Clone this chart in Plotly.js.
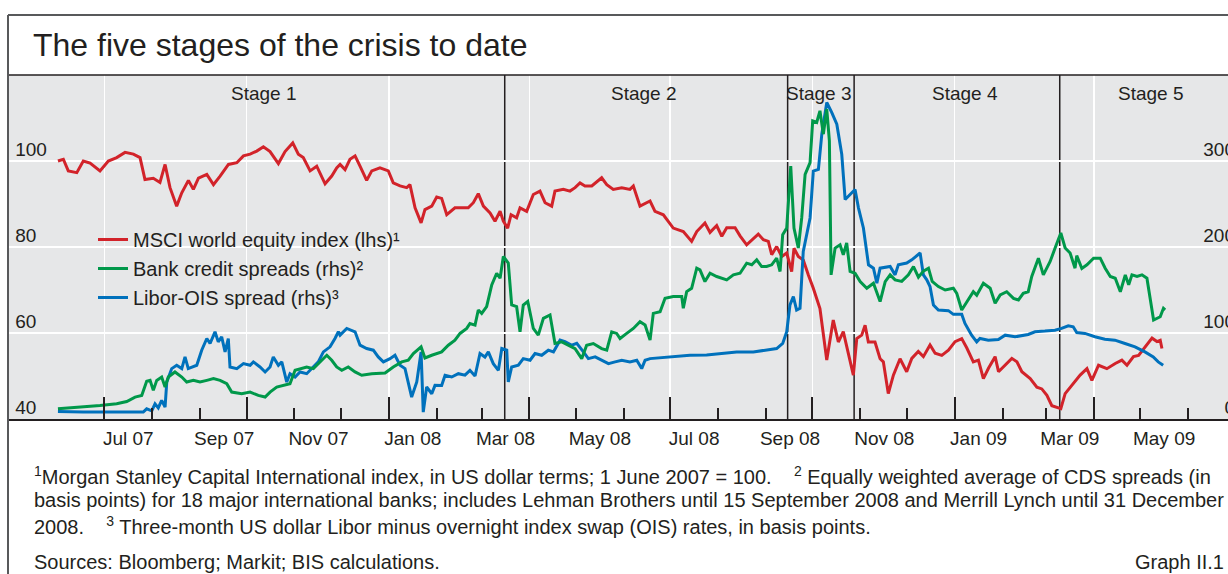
<!DOCTYPE html>
<html>
<head>
<meta charset="utf-8">
<script src="https://cdn.plot.ly/plotly-3.0.1.min.js"></script>
<style>
  html, body { margin: 0; padding: 0; overflow: hidden; background: #fff; }
  #chart { width: 1245px; height: 574px; }
</style>
</head>
<body>
<div id="chart"></div>
<script>
// ---- data (x in days since 1 June 2007) ----
const baseDate = Date.UTC(2007, 5, 1);

const redDays = [0,3.5,6.7,12.2,16.4,20.8,27.2,32.6,38,43.4,48.8,53.1,56.3,61.7,66,69.3,72.5,76.8,80.1,84.4,87.6,90.9,96.3,100.6,104.9,110.3,115.7,120,124.3,128.6,132.9,137.2,142.6,146.9,151.9,155.5,158.7,163.1,167.4,172.8,177.1,180.3,182.5,185.7,188.9,192.2,195.4,199.7,203,208.3,213.7,216.9,221.3,225.6,227.7,231,234.9,237.4,241.8,245,248.2,251.5,256.8,262.2,265.4,268.7,271.9,275.2,279.5,282.7,286,288.1,290.9,293.1,296.7,298.9,303.2,307.5,311.8,315.1,319.4,321.5,326.9,331.2,334.5,337.7,340.9,345.3,351.7,355,359.2,364.7,370,372.2,376.5,383,386.2,391.6,394.8,398,404.5,409.9,413.2,418.5,421.8,426.1,429.4,432.6,438,441.2,445.5,448.8,453,456.3,459.5,461.7,464.9,468.2,471.4,474.6,476.1,478.9,482.1,485.4,488.6,492.9,497.3,501.5,504.8,508,512.4,514.5,516.7,519.9,522.1,524.2,528.5,531.8,533.9,537.1,540.4,544.7,549,552.3,556.5,559.8,564.1,567.4,571.7,576,580.3,584.6,587.9,592.1,595.4,598.6,601.9,606.2,608.4,612.7,617,620.3,623.5,628.9,633.2,636.4,639.7,642.9,646.2,648.7,651.5,655.9,661.2,665.6,668.8,673.1,678.5,683.9,688.2,691.5,695.7,699,703.3,707.7,710.9,713,714.1];
const redValues = [100,100.4,97.7,97.3,100,99.5,97.7,100,100.8,102,101.6,100.8,95.7,96,95,99.2,93.8,89.5,92.6,95.5,93.4,96,96.9,94.5,96.5,99.2,99.6,101.2,101.6,102.3,103.3,102.2,99.4,102.2,104.2,101.6,100.8,97.7,98.8,94.7,96.5,98.4,99.2,98,100.4,101.2,98.8,95.5,97.7,98.4,97.7,94.9,94.2,93.8,94.5,89.1,85.6,88.7,89.5,91.6,91.3,87.5,89.1,89.1,89.1,90.3,92.4,89.5,87.9,86,88.3,86,84.4,87.5,86.8,89.1,88.3,92.2,93,90.3,89.5,93,93.4,93,93.8,94.9,94.2,94.2,96.1,94.5,93.4,93.8,93.4,94.2,89.5,90.7,88.3,87.5,86,84.4,83.6,81.3,83.6,85.6,83.4,85,82.5,84.5,84.5,82.6,80.5,81.7,83,81.7,81.3,78.2,80.1,77.8,78.6,74.3,79.7,77.8,77,73.5,70.4,65.7,53.7,63,57.9,60.3,53.7,50.2,58.7,59.5,61.8,57.9,57.9,54,53.3,45.9,50.2,54,51,54.1,55.7,54.5,57.2,55.3,54.8,56,58,58.7,56.5,53.3,53.7,49.4,51.8,54.5,51,52.6,54.1,53.3,51,49.4,47.4,47,45.5,43.1,42.8,42.4,45.9,47.8,50.2,51.7,49,52.5,51.7,52.9,53.7,52.5,54.5,54.8,56.9,58.8,58,58.3,56.4];

const greenDays = [0,16.4,27.2,38,44.5,49.9,54.2,57.4,59.6,61.7,63.9,67.1,69.3,71.4,75.7,80.1,83.3,87.6,91.9,96.3,100.6,104.9,109.2,112.4,118.9,124.3,129.6,134,137.2,141.5,145.8,150.1,153.4,157.7,160.9,165.2,168.4,173.9,177.1,180.3,183.6,187.8,192.2,196.5,203,211.6,216.9,222.4,226.6,229.9,234.9,237.4,241.8,248.2,252.5,256.8,260.1,264.4,266.5,269.8,271.9,274.1,277.3,280.6,283.8,286,288.1,291.3,293.5,296.7,298.9,301,303.9,307.5,310.7,314,318.3,321.5,325.9,330.1,334.5,338.8,342,346.3,351.7,355,358.2,361.4,363.6,367.9,372.2,376.5,379.8,383,385.1,389.5,392.7,398,403.5,404.5,406.7,409.9,413.2,415.3,418.5,421.8,426.1,432.6,436.9,441.2,445.5,448.8,452,455.2,458.4,461.7,464.9,467.1,468.8,471.4,474,476.1,478.9,481.1,483.3,486.5,488.2,490.8,492.9,495.1,497.3,499,500.1,502.7,505.9,508,510.2,512.4,515.6,518.9,523.2,527.5,531.8,535.1,538.3,541.5,545.8,550.1,553.4,556.6,559.8,563.1,565.5,569.5,573.9,579.2,581.4,584.6,587.9,592.1,594.3,598.6,603,606.2,609.5,613.7,618.1,621.3,624.4,627.6,629.9,634.2,637.4,641.8,645,648.7,651.5,654.7,657.9,659,662.3,665.6,669.9,674.2,677.4,680.7,683.9,687.2,690.4,692.6,694.7,698,701.2,704.4,708.7,713,715.1,716.2];
const greenValues = [11.8,13.8,15.7,17.7,20.4,25.5,27.4,43.8,44.9,33.3,44.9,48.8,37.2,48.8,54.7,48.8,43,44.9,43,44.9,46.9,44.9,41,31.3,29.4,31.3,27.4,25.5,31.3,37.2,39.1,41,56.6,58.6,60.5,58.6,64.4,74.1,68.3,60.5,56.6,60.5,54.7,50.8,52.7,53.5,60.5,66.4,68.3,76.1,83.9,71,74.1,78,85.8,91.7,99.5,105.3,111.1,109.2,126.7,122.8,130.6,155.9,169.5,163.7,189,181.2,132.6,130.6,101.4,132.6,136.6,105.3,97.5,117,120.9,87.8,89.7,85.8,81.9,70.2,85.8,87.8,81.9,80,101.4,99.5,93.6,99.5,105.3,113.1,109.2,91.7,122.8,124.8,140.3,142.3,142.3,128.7,148.1,152,175.4,173.4,159.8,169.5,165.7,161.8,167.6,169.5,181.2,179.3,185.1,177.3,177.3,179.3,187,171.5,214.3,222.1,294.2,222.1,198.8,233.8,284.4,298.1,346.7,344.8,358.4,331.2,360.4,323.4,167.6,198.8,202.6,191,204.6,171.5,169.5,159.8,152,157.9,136.6,159.8,167.6,161.8,160,167.6,177.3,165,172,175.4,160,154,150,152,146,126.7,136.4,148,144,157.9,152,134.5,144.2,148,140.3,138.4,146.2,148,165.7,187,167.6,183.2,198.8,216.3,198.8,193,175.4,190,175,179.3,187,187,175.4,165.7,163.7,148,167.6,156,167.6,165.7,167.6,163.7,115,118.9,128.7,127];

const blueDays = [0,16.4,38,55.2,57.4,60.7,62.8,64.9,67.1,69.3,70.4,73.6,76.8,80.1,82.2,84.3,89.8,93,96.3,98.4,101.6,103.7,105.9,108.1,110.2,111.3,115.7,120,124.3,126.4,130.7,134,137.2,139.3,142.6,144.8,148,150.1,153.4,156.6,160.9,165.2,168.4,171.7,176,179.2,181.4,182.5,186.8,192.2,195.4,199.7,204,207.2,210.5,214.8,218,221.3,224.5,228.8,232.1,234.9,236.3,238.5,241.8,243.9,248.2,250.4,254.7,259,263.3,266.5,269.8,273,276.2,278.4,281.6,284.9,287.1,290.3,291.3,293.5,297.8,301,305.4,308.6,312.9,317.2,320.5,324.8,328,332.4,335.6,339.9,343.1,347.5,351.7,356.1,360.4,364.7,370,374.4,377.6,379.8,383,395.9,408.8,419.6,428.2,439,449.8,458.4,464.9,468.8,471.4,473.5,475.7,477.8,480,482.1,484.3,486.5,488.6,491.9,494.1,496.2,497.3,500.5,503.8,507,509.2,512.4,515.6,517.8,521,524.3,527.5,529.7,531.8,538.3,541.5,543.6,549,552.3,556.5,557.7,559.8,562,564.1,566.3,569.5,576,579.2,584.6,586.7,591,594.3,596.4,601.8,608.3,612.7,619.1,627.6,632,638.4,644.9,649.2,653.5,656.7,659,664.3,670.8,677.2,683.7,690.2,696.7,703.1,708.5,711.7,714.9];
const blueValues = [8.7,8,8,8,11.8,9.5,17.7,13,21.6,13.8,43,58.6,62.5,58.6,72.2,58.6,62.5,80,93.6,87.8,101.4,89.7,95.6,78,93.6,60.5,58.6,64.4,62.5,66.4,60.5,54.7,60.5,72.2,62.5,66.4,43,52.7,48.8,54.7,52.7,60.5,66.4,78,83.9,93.6,101.4,97.5,105.3,101.4,85.8,81.9,80,72.2,66.4,70.2,74.1,62.5,58.6,25.5,43,78,8,37.2,29.4,39.1,39,50.8,48.8,52.7,51,56.6,50,76.1,72,78,64.4,56.6,81.9,80,43,60.5,62.5,70.2,68.3,76.1,74.1,80,78,91.7,90,85.8,88,78,70.2,72.2,68.3,64.4,66.4,68.3,66.4,68.3,58.6,68.3,70.2,72.2,74.1,74.5,76.1,78,78,80,81.9,87.8,101.4,132.6,142.3,126.7,128.7,194.9,216.3,233.8,288.3,290.3,331.2,358.4,368.1,356.5,342.8,307.8,255.2,261.1,266.9,245.5,222.1,179.3,175.4,158,175.4,177.3,167.6,179.3,181.3,185.1,191,193,167.6,161.8,154,132.6,126.7,126,121.7,121.7,111.1,97.5,89.7,93.6,91.7,92.5,97.5,95.6,98.3,101.4,102.2,103.3,105.3,108.4,107.2,100.6,99.5,95.6,92.8,91.7,87.8,83.9,78,72.2,66.4,62.5];

const seriesNames = ['MSCI world equity index (lhs)\u00b9', 'Bank credit spreads (rhs)\u00b2', 'Libor-OIS spread (rhs)\u00b3'];

const quarterStarts = ['2007-07-01','2007-10-01','2008-01-01','2008-04-01','2008-07-01','2008-10-01','2009-01-01','2009-04-01','2009-07-01'];
const monthStarts = ['2007-07-01','2007-08-01','2007-09-01','2007-10-01','2007-11-01','2007-12-01','2008-01-01','2008-02-01','2008-03-01','2008-04-01','2008-05-01','2008-06-01','2008-07-01','2008-08-01','2008-09-01','2008-10-01','2008-11-01','2008-12-01','2009-01-01','2009-02-01','2009-03-01','2009-04-01','2009-05-01','2009-06-01','2009-07-01'];
const monthTickText = ['Jul 07','','Sep 07','','Nov 07','','Jan 08','','Mar 08','','May 08','','Jul 08','','Sep 08','','Nov 08','','Jan 09','','Mar 09','','May 09','',''];
const leftTicks = [40, 60, 80, 100];
const rightTicks = [0, 100, 200, 300];

const stageBounds = ['2008-03-16','2008-09-15','2008-10-28','2009-03-10'];
const stageNames = ['Stage 1','Stage 2','Stage 3','Stage 4','Stage 5'];
const stageLabelDates = ['2007-10-12','2008-06-14','2008-10-05','2009-01-08','2009-05-08'];

const footnotes = [
  '<sup>1</sup>Morgan Stanley Capital International index, in US dollar terms; 1 June 2007 = 100.\u00a0\u00a0\u00a0 <sup>2</sup> Equally weighted average of CDS spreads (in',
  'basis points) for 18 major international banks; includes Lehman Brothers until 15 September 2008 and Merrill Lynch until 31 December',
  '2008.\u00a0\u00a0\u00a0 <sup>3</sup> Three-month US dollar Libor minus overnight index swap (OIS) rates, in basis points.'
];
const sourceText = 'Sources: Bloomberg; Markit; BIS calculations.';
const graphId = 'Graph II.1';

// ---- helpers ----
function toDate(d) {
  return new Date(baseDate + d * 86400000).toISOString().replace('T', ' ').slice(0, 19);
}
const FONT = 'Liberation Sans, Arial, Helvetica, sans-serif';
const INK = '#231f20';

const W = 1245, H = 574, ML = 8, MR = 5, MT = 75, MB = 155;
const plotW = W - ML - MR, plotH = H - MT - MB;
const py = (Y) => (H - MB - Y) / plotH;   // pixel y -> paper y
const px = (X) => (X - ML) / plotW;        // pixel x -> paper x

const xRange = [toDate(-32.3), toDate(764.6)];

// red on the main subplot (x, y); blue on (x, y2); green on (x2, y2) so the quarter-tick axis x2 is drawn
const traces = [
  { x: redDays.map(toDate), y: redValues, name: seriesNames[0], type: 'scatter', mode: 'lines',
    xaxis: 'x', yaxis: 'y', line: { color: '#d2232a', width: 3 } },
  { x: greenDays.map(toDate), y: greenValues, name: seriesNames[1], type: 'scatter', mode: 'lines',
    xaxis: 'x2', yaxis: 'y2', line: { color: '#00984a', width: 3 } },
  { x: blueDays.map(toDate), y: blueValues, name: seriesNames[2], type: 'scatter', mode: 'lines',
    xaxis: 'x', yaxis: 'y2', line: { color: '#0071bc', width: 3 } }
];

const shapes = stageBounds.map(d => ({
  type: 'line', xref: 'x', yref: 'paper', x0: d, x1: d, y0: 0, y1: 1,
  line: { color: INK, width: 1.5 }, layer: 'between'
}));
// top border of the plot area
shapes.push({ type: 'line', xref: 'paper', yref: 'paper', x0: 0, x1: 1.01, y0: 1, y1: 1,
  line: { color: INK, width: 1.5 }, layer: 'above' });
// outer frame of the graph box
shapes.push({ type: 'line', xref: 'paper', yref: 'paper', x0: 0, x1: 1.01, y0: py(15), y1: py(15),
  line: { color: '#58595b', width: 2 }, layer: 'above' });
shapes.push({ type: 'line', xref: 'paper', yref: 'paper', x0: 0, x1: 0, y0: py(15), y1: py(580),
  line: { color: '#58595b', width: 2 }, layer: 'above' });

const annotations = [];
stageNames.forEach((s, i) => annotations.push({
  text: s, x: stageLabelDates[i], xref: 'x', y: py(93), yref: 'paper',
  xanchor: 'center', yanchor: 'middle', showarrow: false,
  font: { family: FONT, size: 19, color: INK }
}));
const footY = [475, 500, 525];
footnotes.forEach((t, i) => annotations.push({
  text: t, x: px(32), xref: 'paper', y: py(footY[i]), yref: 'paper',
  xanchor: 'left', yanchor: 'middle', showarrow: false, align: 'left',
  font: { family: FONT, size: 20, color: INK }
}));
annotations.push({ text: sourceText, x: px(32), xref: 'paper', y: py(562), yref: 'paper',
  xanchor: 'left', yanchor: 'middle', showarrow: false,
  font: { family: FONT, size: 20, color: INK } });
annotations.push({ text: graphId, x: px(1226), xref: 'paper', y: py(562), yref: 'paper',
  xanchor: 'right', yanchor: 'middle', showarrow: false,
  font: { family: FONT, size: 20, color: INK } });

const layout = {
  width: W, height: H,
  margin: { l: ML, r: MR, t: MT, b: MB, pad: 0 },
  paper_bgcolor: '#ffffff',
  plot_bgcolor: '#e6e7e8',
  font: { family: FONT, color: INK },
  showlegend: true,
  hovermode: false,
  title: {
    text: 'The five stages of the crisis to date',
    font: { family: FONT, size: 32, color: INK },
    x: 33 / W, xref: 'container', xanchor: 'left',
    y: 1 - 45 / H, yref: 'container', yanchor: 'middle'
  },
  legend: {
    x: px(93), y: py(220), xanchor: 'left', yanchor: 'top',
    bgcolor: 'rgba(0,0,0,0)', borderwidth: 0,
    font: { family: FONT, size: 20, color: INK },
    tracegroupgap: 0, itemwidth: 30, traceorder: 'normal'
  },
  xaxis: {
    type: 'date', range: xRange, autorange: false,
    tickmode: 'array', tickvals: monthStarts, ticktext: monthTickText,
    ticks: 'inside', ticklen: 11, tickwidth: 2, tickcolor: INK,
    ticklabelshift: 24, ticklabelstandoff: 2,
    tickfont: { family: FONT, size: 19, color: INK },
    showgrid: false,
    showline: true, linecolor: INK, linewidth: 1.5,
    zeroline: false, fixedrange: true
  },
  xaxis2: {
    type: 'date', range: xRange, autorange: false,
    overlaying: 'x', anchor: 'y', side: 'bottom',
    tickmode: 'array', tickvals: quarterStarts,
    ticks: 'inside', ticklen: 22, tickwidth: 2, tickcolor: INK,
    showticklabels: false,
    showgrid: true, gridcolor: '#ffffff', gridwidth: 1.5,
    showline: false, zeroline: false, fixedrange: true
  },
  yaxis: {
    range: [40, 120], autorange: false,
    tickmode: 'array', tickvals: leftTicks,
    ticks: '', ticklabelposition: 'inside', ticklabelshift: -12, ticklabelstandoff: 8,
    showgrid: true, gridcolor: '#ffffff', gridwidth: 1.5,
    zeroline: false, showline: true, linecolor: INK, linewidth: 1.5,
    tickfont: { family: FONT, size: 19, color: INK }, fixedrange: true
  },
  yaxis2: {
    range: [0, 400], autorange: false,
    overlaying: 'y', side: 'right', anchor: 'x',
    tickmode: 'array', tickvals: rightTicks,
    ticks: '', ticklabelposition: 'inside', ticklabelshift: -12, ticklabelstandoff: 2,
    showgrid: false, zeroline: false, showline: false,
    tickfont: { family: FONT, size: 19, color: INK }, fixedrange: true
  },
  shapes: shapes,
  annotations: annotations
};

Plotly.newPlot('chart', traces, layout, { displayModeBar: false, staticPlot: true });
</script>
</body>
</html>
